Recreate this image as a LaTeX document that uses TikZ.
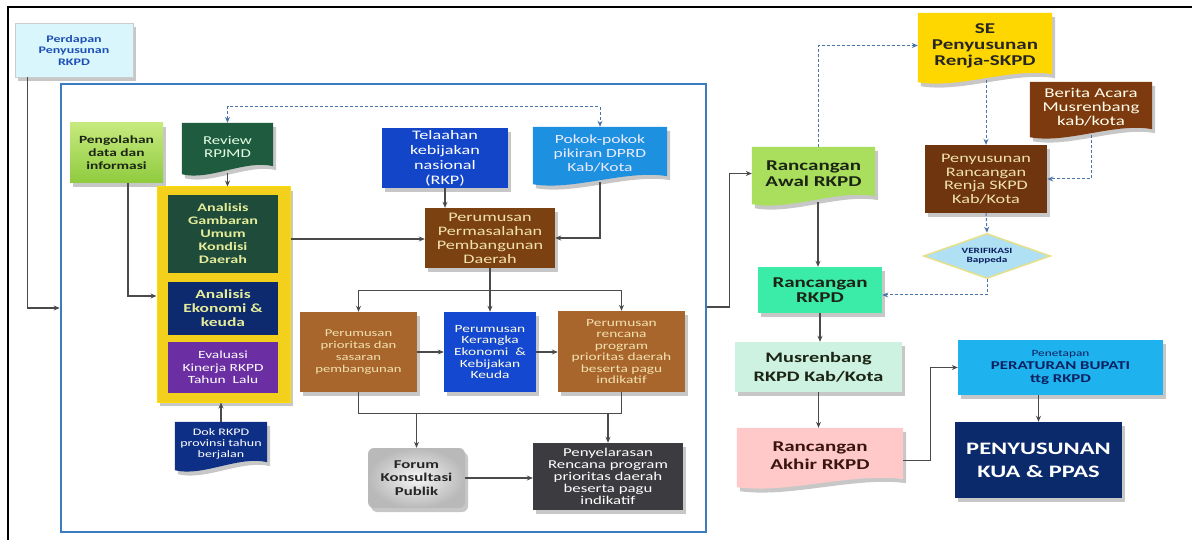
\documentclass[tikz,border=0pt]{standalone}
\usepackage{fontspec}
\setmainfont{Carlito}[FakeStretch=1.4]
\usetikzlibrary{arrows.meta,shapes.geometric,shadows,calc,backgrounds}
\pgfdeclarelayer{bgl}
\pgfdeclarelayer{midl}
\pgfsetlayers{bgl,midl,main}
\definecolor{framecol}{HTML}{3B7BBE}
\definecolor{perdfill}{HTML}{D8F6FB}
\definecolor{perdtext}{HTML}{1F4FB5}
\definecolor{penga}{HTML}{C6EA7E}
\definecolor{pengb}{HTML}{8FCB3E}
\definecolor{darktext}{HTML}{1C2414}
\definecolor{reviewfill}{HTML}{1F5C3F}
\definecolor{yframefill}{HTML}{F2D01C}
\definecolor{gambfill}{HTML}{1E4B3A}
\definecolor{ekofill}{HTML}{0E2A6E}
\definecolor{paleyellow}{HTML}{E5EC9A}
\definecolor{evalfill}{HTML}{6B2FA3}
\definecolor{dokfill}{HTML}{0D2F85}
\definecolor{telfill}{HTML}{1245C8}
\definecolor{pokokfill}{HTML}{1E90E0}
\definecolor{permfill}{HTML}{7B4110}
\definecolor{creamtext}{HTML}{F2E2B0}
\definecolor{priofill}{HTML}{A8652C}
\definecolor{kerfill}{HTML}{1548D0}
\definecolor{penyelfill}{HTML}{3C3C40}
\definecolor{awala}{HTML}{C2EC80}
\definecolor{awalb}{HTML}{98D645}
\definecolor{sefill}{HTML}{FFD700}
\definecolor{beritafill}{HTML}{7C3A0E}
\definecolor{penyRfill}{HTML}{6E350F}
\definecolor{veriffill}{HTML}{B0E0F4}
\definecolor{verifdraw}{HTML}{E6E08A}
\definecolor{rrkpdfill}{HTML}{3BEBA8}
\definecolor{musfill}{HTML}{CDF2E2}
\definecolor{akhirfill}{HTML}{FFC9C9}
\definecolor{akhirtext}{HTML}{3A1410}
\definecolor{penetfill}{HTML}{1EB2EE}
\definecolor{penettext}{HTML}{0A2060}
\definecolor{kuafill}{HTML}{0B2A6B}
\definecolor{arrowgray}{HTML}{4A4A4A}
\definecolor{dashblue}{HTML}{4A74A8}
\newcommand\fsz[2]{\fontsize{#1}{#2}\selectfont}
\tikzset{
  shadowed/.style={drop shadow={shadow xshift=3pt,shadow yshift=-4pt,opacity=0.22,fill=black}},
  plain/.style={rectangle,inner sep=0pt,align=center},
  box/.style={plain,shadowed},
  arr/.style={draw=arrowgray,line width=1.1pt,-{Stealth[length=6pt,width=5pt]}},
  ln/.style={draw=arrowgray,line width=1.1pt},
  darr/.style={draw=dashblue,line width=1pt,dash pattern=on 3pt off 2pt,-{Stealth[length=6pt,width=5pt]}},
  darrboth/.style={draw=dashblue,line width=1pt,dash pattern=on 3pt off 2pt,{Stealth[length=6pt,width=5pt]}-{Stealth[length=6pt,width=5pt]}}
}
\newcommand\wavefill[2]{%
  \begin{pgfonlayer}{midl}
  \fill[#2,shadowed] (#1.north west) -- (#1.north east) -- ($(#1.south east)+(0,-4)$)
    .. controls ($(#1.south east)!0.3!(#1.south west)+(0,-11)$) and ($(#1.south east)!0.7!(#1.south west)+(0,11)$) .. ($(#1.south west)+(0,4)$) -- cycle;
  \end{pgfonlayer}}
\begin{document}
\begin{tikzpicture}[x=1pt,y=-1pt]
\useasboundingbox (0,0) rectangle (1192,540);
\begin{pgfonlayer}{bgl}
  \fill[white] (0,0) rectangle (1192,540);
  \draw[black,line width=1.6pt] (8,540) -- (8,7) -- (1192,7);
  \node[draw=framecol,line width=2.6pt,fill=white,minimum width=645pt,minimum height=448pt,inner sep=0pt] (mainbox) at (383.5,308) {};
\end{pgfonlayer}

% left column
\node[plain,minimum width=118pt,minimum height=54pt,fill=perdfill,draw=gray!40,text=perdtext,font=\bfseries\fsz{10}{11.5},shadowed] (perdapan) at (74,50) {Perdapan\\Penyusunan\\RKPD};
\node[box,top color=penga,bottom color=pengb,minimum width=93pt,minimum height=60pt,text=darktext,font=\bfseries\fsz{11}{13}] (pengolahan) at (116.5,153) {Pengolahan\\data dan\\informasi};
\node[plain,minimum width=91pt,minimum height=47pt,text=white!90!green,font=\fsz{12}{13}] (review) at (227.5,146.5) {Review\\RPJMD};
\wavefill{review}{reviewfill}

\node[box,fill=yframefill,draw=yellow!80!orange,line width=1pt,minimum width=133pt,minimum height=215pt] (yframe) at (223.5,294.5) {};
\node[plain,fill=gambfill,minimum width=110pt,minimum height=78pt,text=paleyellow,font=\bfseries\fsz{11.5}{13}] (gambaran) at (223,234) {Analisis\\Gambaran\\Umum\\Kondisi\\Daerah};
\node[plain,fill=ekofill,minimum width=110pt,minimum height=53pt,text=paleyellow,font=\bfseries\fsz{12.5}{14}] (ekonomi) at (223,308.5) {Analisis\\Ekonomi \&\\keuda};
\node[plain,fill=evalfill,minimum width=110pt,minimum height=51pt,text=white,font=\fsz{11}{12.5}] (evaluasi) at (223,367.5) {Evaluasi\\Kinerja RKPD\\Tahun\ \ Lalu};
\node[plain,minimum width=92pt,minimum height=44pt,text=white,font=\fsz{10}{11}] (dok) at (221,444) {Dok RKPD\\provinsi tahun\\berjalan};
\wavefill{dok}{dokfill}

% middle
\node[box,fill=telfill,minimum width=126pt,minimum height=60pt,text=white,font=\fsz{13}{15}] (telaahan) at (445,158) {Telaahan\\kebijakan\\nasional\\(RKP)};
\node[plain,minimum width=134pt,minimum height=53pt,text=white!92!blue,font=\fsz{12.5}{14}] (pokok) at (600,153.5) {Pokok-pokok\\pikiran DPRD\\Kab/Kota};
\wavefill{pokok}{pokokfill}
\node[box,fill=permfill,minimum width=130pt,minimum height=60pt,text=creamtext,font=\fsz{13}{14}] (permasalahan) at (490,238) {Perumusan\\Permasalahan\\Pembangunan\\Daerah};
\node[box,fill=priofill,minimum width=117pt,minimum height=80pt,text=creamtext,font=\fsz{10.5}{12}] (prioritas) at (358.5,352) {Perumusan\\prioritas dan\\sasaran\\pembangunan};
\node[box,fill=kerfill,minimum width=92pt,minimum height=80pt,text=white!90!yellow,font=\fsz{11}{11.7}] (kerangka) at (490,352) {Perumusan\\Kerangka\\Ekonomi \ \&\\Kebijakan\\Keuda};
\node[box,fill=priofill,minimum width=127pt,minimum height=81pt,text=creamtext,font=\fsz{11}{11.5}] (rencana) at (621.5,351.5) {Perumusan\\rencana\\program\\prioritas daerah\\beserta pagu\\indikatif};
\node[box,rounded corners=6pt,inner color=gray!8,outer color=gray!55,minimum width=97pt,minimum height=60pt,text=black!85,font=\bfseries\fsz{12}{13.5}] (forum) at (416.5,478) {Forum\\Konsultasi\\Publik};
\node[box,fill=penyelfill,minimum width=150pt,minimum height=67pt,text=white!92,font=\fsz{12}{12}] (penyelarasan) at (608,476.5) {Penyelarasan\\Rencana program\\prioritas daerah\\beserta pagu\\indikatif};

% right side
\node[plain,minimum width=123pt,minimum height=53pt,text=darktext,font=\bfseries\fsz{15}{16}] (awal) at (813.5,173.5) {Rancangan\\Awal RKPD};
\wavefill{awal}{awalb!60!awala}
\node[plain,minimum width=134pt,minimum height=65pt,text=black!85,font=\bfseries\fsz{15}{16}] (se) at (985,45.5) {SE\\Penyusunan\\Renja-SKPD};
\wavefill{se}{sefill}
\node[plain,minimum width=122pt,minimum height=51pt,text=white!92!yellow,font=\fsz{13.5}{14}] (berita) at (1091,107.5) {Berita Acara\\Musrenbang\\kab/kota};
\wavefill{berita}{beritafill}
\node[box,fill=penyRfill,minimum width=122pt,minimum height=68pt,text=creamtext,font=\fsz{13}{13.5}] (penyR) at (986,179) {Penyusunan\\Rancangan\\Renja SKPD\\Kab/Kota};
\node[diamond,shape aspect=2.8,inner sep=0pt,minimum width=127pt,minimum height=45pt,fill=veriffill,draw=verifdraw,line width=1.5pt,align=center,text=penettext,font=\bfseries\fsz{8}{9}] (verif) at (987,256) {VERIFIKASI\\Bappeda};
\node[box,fill=rrkpdfill,minimum width=124pt,minimum height=46pt,text=darktext,font=\bfseries\fsz{15}{15.5}] (rrkpd) at (820,290) {Rancangan\\RKPD};
\node[box,fill=musfill,minimum width=167pt,minimum height=50pt,text=darktext,font=\bfseries\fsz{14.5}{19}] (musrenbang) at (818.5,367) {Musrenbang\\RKPD Kab/Kota};
\node[plain,minimum width=166pt,minimum height=55pt,text=akhirtext,font=\bfseries\fsz{15}{18}] (akhir) at (820,455.5) {Rancangan\\Akhir RKPD};
\wavefill{akhir}{akhirfill}
\node[box,fill=penetfill,minimum width=205pt,minimum height=55pt,text=penettext,font=\bfseries\fsz{12}{13}] (penetapan) at (1060.5,367.5) {{\mdseries\fsz{9.5}{13}Penetapan}\\PERATURAN BUPATI\\ttg RKPD};
\node[box,fill=kuafill,minimum width=167pt,minimum height=76pt,text=white,font=\bfseries\fsz{17.5}{23}] (kua) at (1038.5,460) {PENYUSUNAN\\KUA \& PPAS};

% connectors, left part
\draw[arr] ([xshift=13pt]perdapan.south west) |- (mainbox.west |- 0,308);
\draw[arr] ([xshift=11.5pt]pengolahan.south) |- (yframe.west |- 0,296);
\draw[darrboth] (review.north) -- ++(0,-16) -| (pokok.north);
\draw[arr] ([yshift=-3pt]review.south) -- (review.south |- yframe.north);
\draw[arr] (yframe.east |- 0,239) -- (permasalahan.west |- 0,239);
\draw[arr] (telaahan.south) -- (telaahan.south |- permasalahan.north);
\draw[arr] ([yshift=-2pt]pokok.south) |- (permasalahan.east);
\draw[ln] (permasalahan.south) -- ++(0,22) coordinate (j1);
\draw[arr] (j1) -| (prioritas.north);
\draw[arr] (j1) -| (rencana.north);
\draw[arr] (j1) -- (kerangka.north);
\draw[arr] (prioritas.east) -- (kerangka.west);
\draw[arr] (kerangka.east) -- (rencana.west |- kerangka.east);
\draw[ln] (prioritas.south) -- ++(0,21) coordinate (j2) -| (rencana.south);
\draw[arr] (forum.north |- j2) -- (forum.north);
\draw[arr] (penyelarasan.north |- j2) -- (penyelarasan.north);
\draw[arr] (forum.east) -- (penyelarasan.west |- forum.east);
\draw[arr] (dok.north) -- (dok.north |- yframe.south);

% connectors, right part
\draw[arr] (mainbox.east |- 0,307) -- ++(22,0) |- (awal.west);
\draw[darr] ([xshift=4.5pt]awal.north) |- (se.west);
\draw[arr] ([xshift=4.5pt,yshift=-2pt]awal.south) -- ([xshift=4.5pt]awal.south |- rrkpd.north);
\draw[darr] ([yshift=-2pt]penyR.north |- se.south) -- (penyR.north);
\draw[darr] ([yshift=-2pt]berita.south) |- (penyR.east);
\draw[darr] (penyR.south) -- (verif.north);
\draw[darr] (verif.south) |- ([yshift=-5pt]rrkpd.east);
\draw[arr] (rrkpd.south) -- (rrkpd.south |- musrenbang.north);
\draw[arr] (musrenbang.south) -- (musrenbang.south |- akhir.north);
\draw[arr] ([yshift=-5pt]akhir.east) -- ++(27,0) |- (penetapan.west);
\draw[arr] (kua.north |- penetapan.south) -- (kua.north);
\end{tikzpicture}
\end{document}
